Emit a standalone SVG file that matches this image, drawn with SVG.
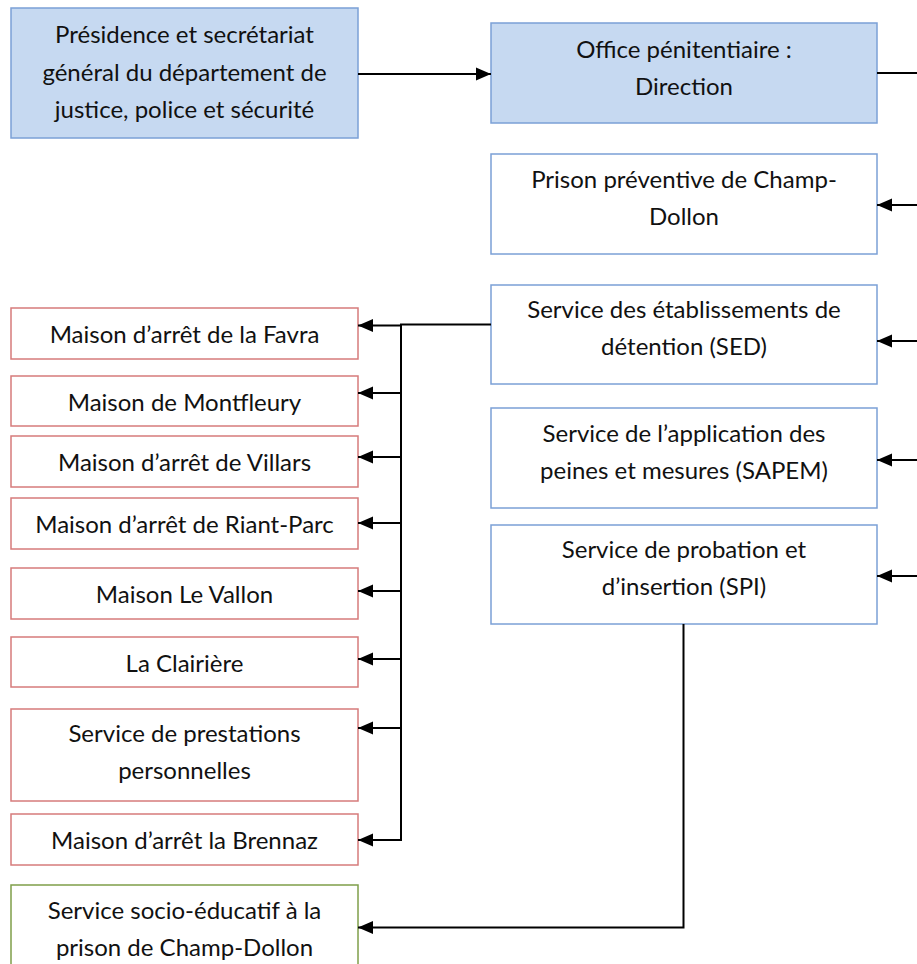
<svg xmlns="http://www.w3.org/2000/svg" width="917" height="964" viewBox="0 0 917 964">
  <defs>
    <style>
      .blue { fill: #c6d9f1; stroke: #7ba0d6; stroke-width: 1.5; }
      .wblue { fill: #ffffff; stroke: #7ba0d6; stroke-width: 1.5; }
      .red { fill: #ffffff; stroke: #d67b7b; stroke-width: 1.5; }
      .green { fill: #ffffff; stroke: #7f9f4a; stroke-width: 1.5; }
      text { font-family: Lato, "Open Sans", sans-serif; font-size: 24px; fill: #111111; text-anchor: middle; }
      .conn { fill: none; stroke: #000000; stroke-width: 2; }
    </style>
    <marker id="arrow" markerUnits="userSpaceOnUse" markerWidth="16" markerHeight="14" refX="15" refY="7" orient="auto">
      <path d="M0,0.5 L15,7 L0,13.5 Z" fill="#000000"/>
    </marker>
  </defs>
  <rect width="917" height="964" fill="#ffffff"/>

  <g id="presidence">
    <rect class="blue" x="11" y="8" width="347" height="130"/>
    <text x="184.5" y="43">Présidence et secrétariat</text>
    <text x="184.5" y="81">général du département de</text>
    <text x="184.5" y="118">justice, police et sécurité</text>
  </g>
  <g id="office">
    <rect class="blue" x="491" y="23" width="386" height="100"/>
    <text x="684" y="58">Office pénitentiaire :</text>
    <text x="684" y="95">Direction</text>
  </g>
  <g id="prison-preventive">
    <rect class="wblue" x="491" y="154" width="386" height="100"/>
    <text x="684" y="188">Prison préventive de Champ-</text>
    <text x="684" y="225">Dollon</text>
  </g>
  <g id="sed">
    <rect class="wblue" x="491" y="285" width="386" height="99"/>
    <text x="684" y="318">Service des établissements de</text>
    <text x="684" y="355">détention (SED)</text>
  </g>
  <g id="sapem">
    <rect class="wblue" x="491" y="408" width="386" height="100"/>
    <text x="684" y="442">Service de l’application des</text>
    <text x="684" y="479">peines et mesures (SAPEM)</text>
  </g>
  <g id="spi">
    <rect class="wblue" x="491" y="525" width="386" height="99"/>
    <text x="684" y="558">Service de probation et</text>
    <text x="684" y="595">d’insertion (SPI)</text>
  </g>

  <g id="favra">
    <rect class="red" x="11" y="308" width="347" height="51"/>
    <text x="184.5" y="343">Maison d’arrêt de la Favra</text>
  </g>
  <g id="montfleury">
    <rect class="red" x="11" y="376" width="347" height="50"/>
    <text x="184.5" y="411">Maison de Montfleury</text>
  </g>
  <g id="villars">
    <rect class="red" x="11" y="436" width="347" height="51"/>
    <text x="184.5" y="471">Maison d’arrêt de Villars</text>
  </g>
  <g id="riant-parc">
    <rect class="red" x="11" y="498" width="347" height="51"/>
    <text x="184.5" y="533">Maison d’arrêt de Riant-Parc</text>
  </g>
  <g id="le-vallon">
    <rect class="red" x="11" y="568" width="347" height="51"/>
    <text x="184.5" y="603">Maison Le Vallon</text>
  </g>
  <g id="clairiere">
    <rect class="red" x="11" y="637" width="347" height="50"/>
    <text x="184.5" y="672">La Clairière</text>
  </g>
  <g id="prestations">
    <rect class="red" x="11" y="709" width="347" height="92"/>
    <text x="184.5" y="742">Service de prestations</text>
    <text x="184.5" y="779">personnelles</text>
  </g>
  <g id="brennaz">
    <rect class="red" x="11" y="814" width="347" height="51"/>
    <text x="184.5" y="849">Maison d’arrêt la Brennaz</text>
  </g>
  <g id="socio-educatif">
    <rect class="green" x="11" y="885" width="347" height="100"/>
    <text x="184.5" y="919">Service socio-éducatif à la</text>
    <text x="184.5" y="956">prison de Champ-Dollon</text>
  </g>

  <g id="connectors">
    <line class="conn" x1="358" y1="74" x2="491" y2="74" marker-end="url(#arrow)"/>
    <line class="conn" x1="877" y1="73" x2="917" y2="73"/>
    <line class="conn" x1="917" y1="205" x2="877" y2="205" marker-end="url(#arrow)"/>
    <line class="conn" x1="917" y1="341" x2="877" y2="341" marker-end="url(#arrow)"/>
    <line class="conn" x1="917" y1="460" x2="877" y2="460" marker-end="url(#arrow)"/>
    <line class="conn" x1="917" y1="576" x2="877" y2="576" marker-end="url(#arrow)"/>
    <polyline class="conn" points="491,324.5 401,324.5 401,841"/>
    <line class="conn" x1="401" y1="325.5" x2="358" y2="325.5" marker-end="url(#arrow)"/>
    <line class="conn" x1="401" y1="393" x2="358" y2="393" marker-end="url(#arrow)"/>
    <line class="conn" x1="401" y1="457" x2="358" y2="457" marker-end="url(#arrow)"/>
    <line class="conn" x1="401" y1="523" x2="358" y2="523" marker-end="url(#arrow)"/>
    <line class="conn" x1="401" y1="591" x2="358" y2="591" marker-end="url(#arrow)"/>
    <line class="conn" x1="401" y1="659" x2="358" y2="659" marker-end="url(#arrow)"/>
    <line class="conn" x1="401" y1="728" x2="358" y2="728" marker-end="url(#arrow)"/>
    <line class="conn" x1="401" y1="840" x2="358" y2="840" marker-end="url(#arrow)"/>
    <polyline class="conn" points="683.5,624 683.5,927.5 358,927.5" marker-end="url(#arrow)"/>
  </g>
</svg>
